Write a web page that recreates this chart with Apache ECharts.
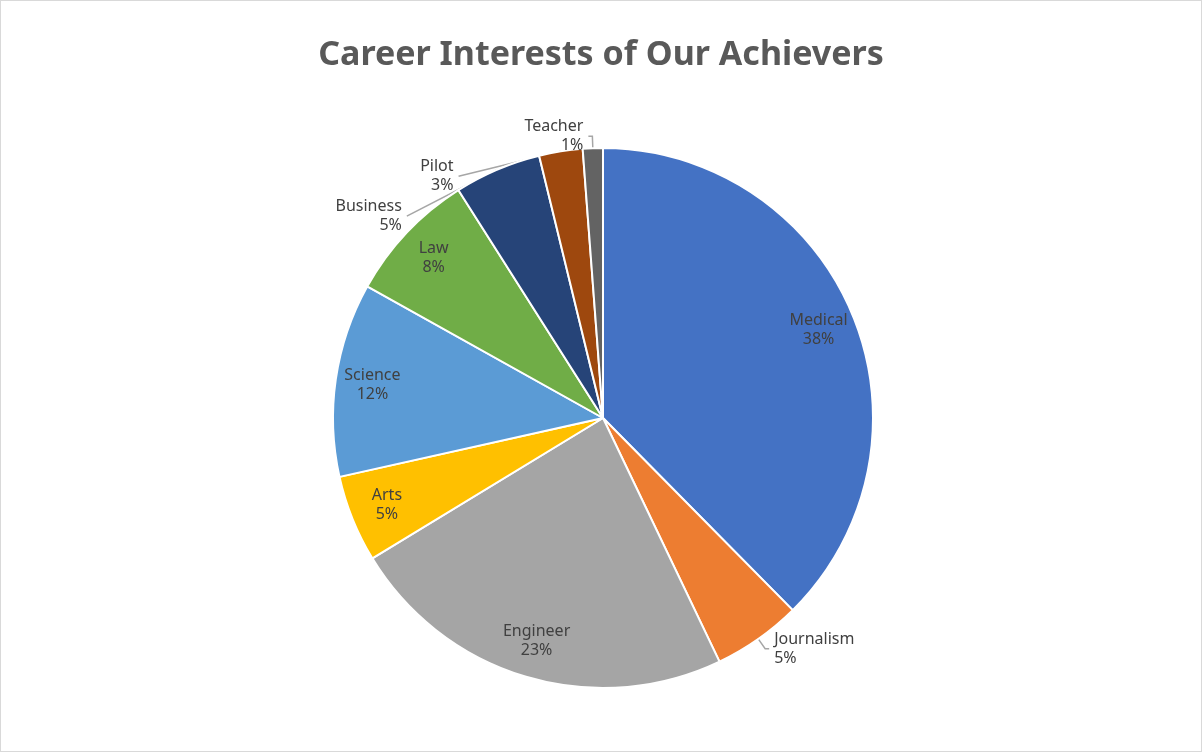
<!DOCTYPE html>
<html><head><meta charset="utf-8">
<script src="https://cdn.jsdelivr.net/npm/echarts@6/dist/echarts.min.js"></script>
<style>html,body{margin:0;padding:0;background:#fff}#c{width:1200px;height:750px;border:1px solid #d9d9d9}</style>
</head><body><div id="c"></div>
<script>
const categories=['Medical','Journalism','Engineer','Arts','Science','Law','Business','Pilot','Teacher'];
const values=[37.6,5.3,23.4,5.2,11.6,7.9,5.2,2.6,1.2];
const colors=['#4472C4','#ED7D31','#A5A5A5','#FFC000','#5B9BD5','#70AD47','#264478','#9E480E','#636363'];
const outside=['Journalism','Business','Pilot','Teacher'];
const font='"Noto Sans", sans-serif';
const fmt=p=>p.name+'\n'+Math.round(p.value)+'%';
const chart=echarts.init(document.getElementById('c'));
chart.setOption({
 title:{text:'Career Interests of Our Achievers',left:'center',top:32,textStyle:{fontFamily:font,fontSize:34,fontWeight:'bold',color:'#595959'}},
 series:[{
  type:'pie',center:[602,417],radius:270,startAngle:90,clockwise:true,animation:false,
  data:categories.map((n,i)=>({name:n,value:values[i],itemStyle:{color:colors[i]},
    label:{show:outside.includes(n)},labelLine:{show:outside.includes(n)}})),
  itemStyle:{borderColor:'#fff',borderWidth:2},
  label:{formatter:fmt,fontFamily:font,fontSize:16,color:'#404040',lineHeight:19,align:'center'},
  labelLine:{length:12,length2:4,lineStyle:{color:'#a6a6a6',width:1.5}}
 },{
  type:'pie',center:[602,417],radius:[190,270],startAngle:90,silent:true,animation:false,
  data:categories.map((n,i)=>({name:n,value:values[i],itemStyle:{color:'transparent'},
    label:{show:!outside.includes(n)}})),
  label:{position:'inside',formatter:fmt,fontFamily:font,fontSize:16,color:'#404040',lineHeight:19}
 }]
});
</script></body></html>
